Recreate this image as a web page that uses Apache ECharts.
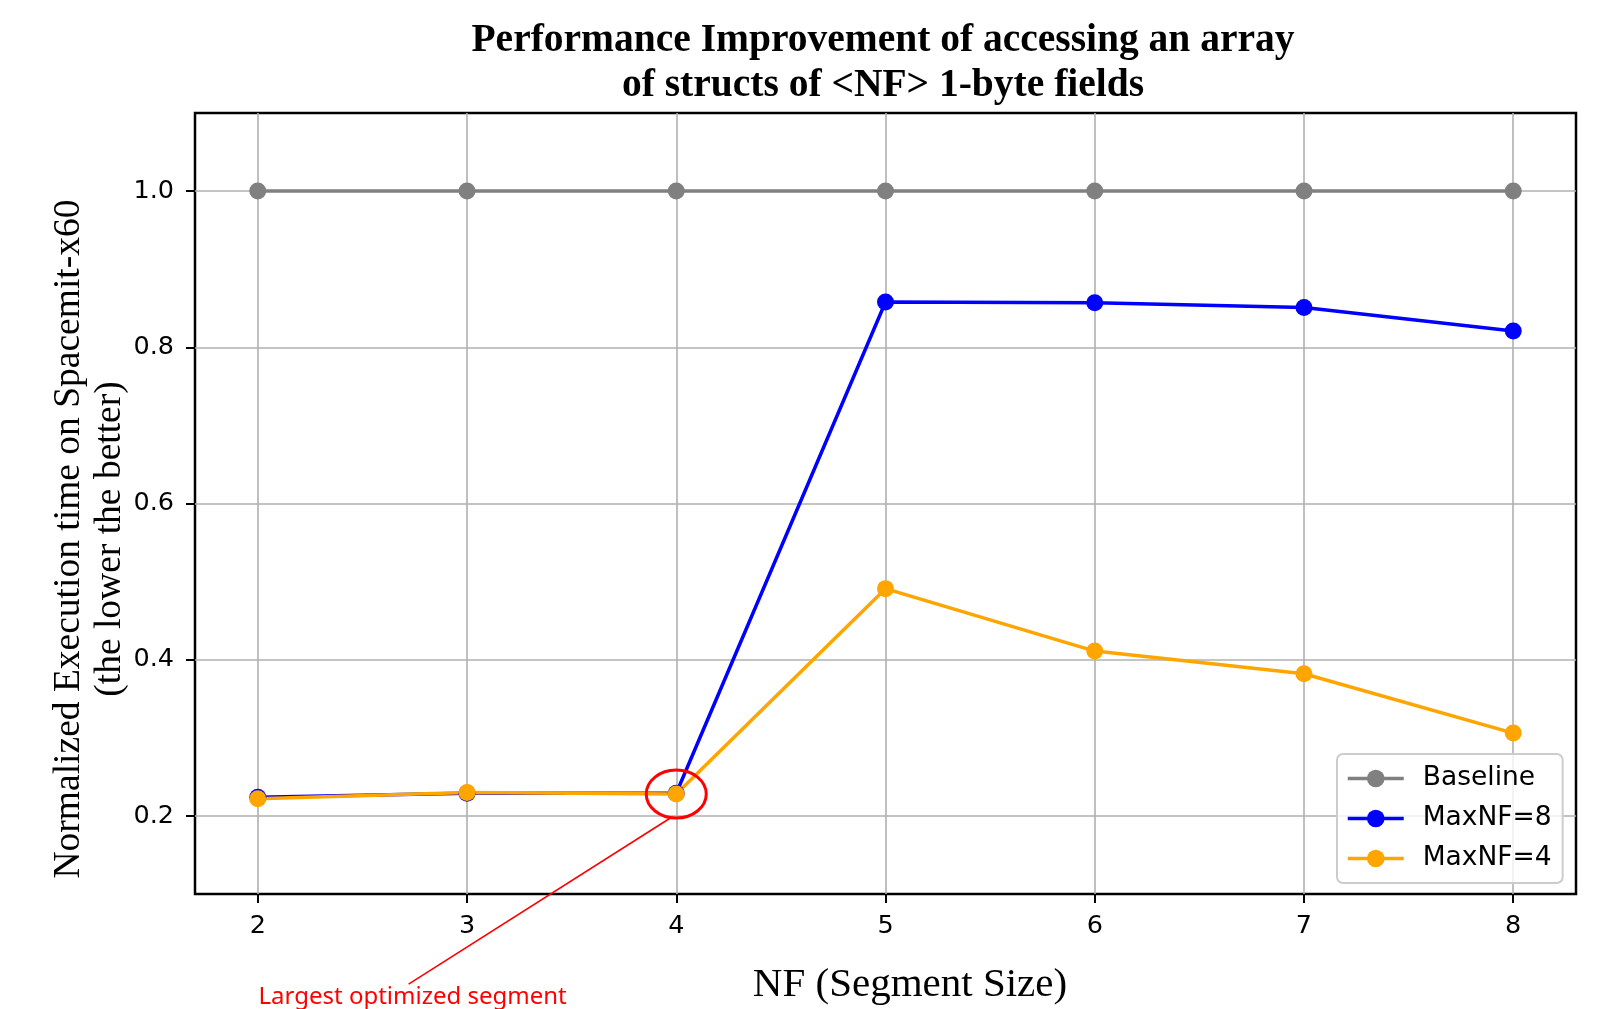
<!DOCTYPE html>
<html>
<head>
<meta charset="utf-8">
<script src="https://cdn.jsdelivr.net/npm/echarts@6/dist/echarts.min.js"></script>
<style>html,body{margin:0;padding:0;background:#fff}#main{width:1605px;height:1009px}</style>
</head>
<body>
<div id="main"></div>
<script>
// NF values on the x axis
const nf = [2, 3, 4, 5, 6, 7, 8];
// normalized execution time
const baseline = [1.0, 1.0, 1.0, 1.0, 1.0, 1.0, 1.0];
const maxNF8 = [0.224, 0.229, 0.229, 0.858, 0.857, 0.851, 0.821];
const maxNF4 = [0.222, 0.230, 0.228, 0.491, 0.411, 0.382, 0.306];

const serif = 'Liberation Serif';
const sans = 'DejaVu Sans';

function pairs(vals) {
  return nf.map((x, i) => [x, vals[i]]);
}

function lineSeries(name, color, vals) {
  return {
    name: name,
    type: 'line',
    data: pairs(vals),
    symbol: 'circle',
    symbolSize: 17,
    color: color,
    lineStyle: { color: color, width: 3.5 },
    itemStyle: { color: color },
    emphasis: { disabled: true },
    z: 3
  };
}

const chart = echarts.init(document.getElementById('main'));
chart.setOption({
  animation: false,
  backgroundColor: '#fff',
  title: {
    text: 'Performance Improvement of accessing an array\nof structs of <NF> 1-byte fields',
    left: 883,
    top: 18,
    textAlign: 'center',
    padding: 0,
    textStyle: { fontFamily: serif, fontWeight: 'bold', fontSize: 39.5, lineHeight: 45, color: '#000' }
  },
  grid: {
    left: 195, right: 29, top: 113, bottom: 115,
    show: true, borderColor: '#000', borderWidth: 2.5, backgroundColor: 'transparent'
  },
  legend: {
    orient: 'vertical',
    left: 1337,
    top: 754,
    itemWidth: 56,
    itemHeight: 22,
    itemGap: 13,
    padding: [11, 11, 11, 9],
    backgroundColor: 'rgba(255,255,255,0.8)',
    borderColor: '#cccccc',
    borderWidth: 2,
    borderRadius: 6,
    lineStyle: { width: 3.5 },
    textStyle: { fontFamily: sans, fontSize: 26.5, lineHeight: 26, color: '#000', padding: [0, 0, 0, 14] },
    data: ['Baseline', 'MaxNF=8', 'MaxNF=4']
  },
  xAxis: {
    type: 'value',
    min: 1.7,
    max: 8.3,
    splitNumber: 6,
    axisLine: { show: false },
    axisTick: { show: true, length: 9, lineStyle: { color: '#000', width: 2 } },
    axisLabel: {
      margin: 19, fontFamily: sans, fontSize: 25.5, color: '#000',
      showMinLabel: false, showMaxLabel: false,
      formatter: v => String(v)
    },
    splitLine: { show: true, showMinLine: false, showMaxLine: false, lineStyle: { color: '#b0b0b0', width: 1.6 } }
  },
  yAxis: {
    type: 'value',
    min: 0.1,
    max: 1.1,
    splitNumber: 5,
    axisLine: { show: false },
    axisTick: { show: true, length: 9, lineStyle: { color: '#000', width: 2 } },
    axisLabel: {
      margin: 21, fontFamily: sans, fontSize: 25.5, color: '#000',
      showMinLabel: false, showMaxLabel: false,
      formatter: v => v.toFixed(1)
    },
    splitLine: { show: true, showMinLine: false, showMaxLine: false, lineStyle: { color: '#b0b0b0', width: 1.6 } }
  },
  series: [
    lineSeries('Baseline', '#808080', baseline),
    lineSeries('MaxNF=8', '#0000ff', maxNF8),
    lineSeries('MaxNF=4', '#ffa500', maxNF4)
  ]
});

// axis titles, annotation circle and pointer
const focus = chart.convertToPixel({ gridIndex: 0 }, [4, maxNF4[2]]);
const lineEnd = chart.convertToPixel({ gridIndex: 0 }, [3.97, 0.197]);
const noteAt = chart.convertToPixel({ gridIndex: 0 }, [2.74, -0.032]);

chart.setOption({
  graphic: [
    {
      type: 'text', x: 910, y: 985, z: 10,
      style: { text: 'NF (Segment Size)', fontFamily: serif, fontSize: 41, fill: '#000', align: 'center', verticalAlign: 'middle' }
    },
    {
      type: 'text', x: 90, y: 539, rotation: Math.PI / 2, z: 10,
      style: {
        text: 'Normalized Execution time on Spacemit-x60\n(the lower the better)',
        fontFamily: serif, fontSize: 37.5, lineHeight: 41, fill: '#000', align: 'center', verticalAlign: 'middle'
      }
    },
    {
      type: 'ellipse', z: 20,
      shape: { cx: focus[0], cy: focus[1], rx: 30, ry: 24 },
      style: { fill: 'none', stroke: '#ff0000', lineWidth: 3 }
    },
    {
      type: 'line', z: 20,
      shape: { x1: noteAt[0] - 4, y1: noteAt[1] - 13, x2: lineEnd[0], y2: lineEnd[1] },
      style: { stroke: '#ff0000', lineWidth: 1.6 }
    },
    {
      type: 'text', x: noteAt[0], y: noteAt[1], z: 20,
      style: { text: 'Largest optimized segment', fontFamily: 'Noto Sans', fontSize: 24, fill: '#ff0000', align: 'center', verticalAlign: 'middle' }
    }
  ]
});
</script>
</body>
</html>
